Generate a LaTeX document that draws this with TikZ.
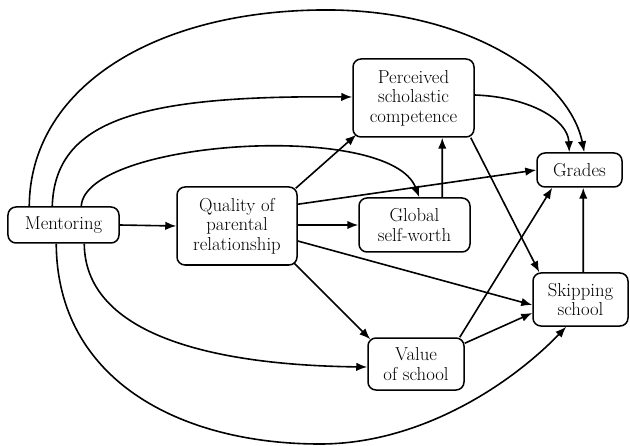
\documentclass[tikz,border=0pt]{standalone}
\usetikzlibrary{arrows.meta,calc}
\begin{document}
\begin{tikzpicture}[x=1bp,y=-1bp,
  box/.style={draw,line width=1.5bp,rounded corners=8bp,align=center,inner sep=0pt,
    font=\fontsize{18.8}{19.5}\selectfont},
  arr/.style={line width=1.6bp,-{Latex[length=11bp,width=8.5bp]}},
  ]
\useasboundingbox (0,0) rectangle (630,446);
\node[box,minimum width=111bp,minimum height=36bp] (ment) at (63.5,225) {Mentoring};
\node[box,minimum width=120bp,minimum height=78bp] (qual) at (237,226) {Quality of\\parental\\relationship};
\node[box,minimum width=121bp,minimum height=78bp] (perc) at (413.5,98) {Perceived\\scholastic\\competence};
\node[box,minimum width=85bp,minimum height=34bp] (grad) at (579.5,170) {Grades};
\node[box,minimum width=111bp,minimum height=54bp] (glob) at (414.5,225) {Global\\self-worth};
\node[box,minimum width=95bp,minimum height=53bp] (skip) at (580.5,299.5) {Skipping\\school};
\node[box,minimum width=96bp,minimum height=52bp] (val) at (416,364) {Value\\of school};

% Mentoring arcs
\draw[arr] ($(ment.north west)+(22,0)$) .. controls (30,90) and (150,12) .. (320,10)
  .. controls (470,8) and (570,80) .. ($(grad.north west)+(48,0)$);
\draw[arr] ($(ment.north west)+(45,0)$) .. controls (55,120) and (140,95) .. ($(perc.west)+(0,-1)$);
\draw[arr] ($(ment.north west)+(74,0)$) .. controls (85,140) and (390,120) .. ($(glob.north west)+(61,0)$);
\draw[arr] ($(ment.south west)+(49,0)$) .. controls (57,380) and (180,444) .. (320,444)
  .. controls (420,444) and (510,385) .. ($(skip.south west)+(34,0)$);
\draw[arr] ($(ment.south west)+(77,0)$) .. controls (85,330) and (200,365) .. ($(val.west)+(0,3)$);
\draw[arr] (ment.east) -- (qual.west);

% Quality
\draw[arr] ($(qual.north east)+(-2,2)$) -- ($(perc.south west)+(4,-3)$);
\draw[arr] ($(qual.north east)+(0,18)$) -- (grad.west);
\draw[arr] ($(qual.east)+(0,-1)$) -- (glob.west);
\draw[arr] ($(qual.east)+(0,15)$) -- ($(skip.west)+(0,5.5)$);
\draw[arr] ($(qual.south east)+(-4,-3)$) -- ($(val.north west)+(3,2)$);

% Others
\draw[arr] ($(glob.north west)+(84,0)$) -- ($(perc.south west)+(90,0)$);
\draw[arr] ($(perc.east)+(0,-3)$) .. controls (530,97) and (568,120) .. ($(grad.north west)+(33,0)$);
\draw[arr] ($(perc.south east)+(-4,0)$) -- ($(skip.north west)+(7,0)$);
\draw[arr] ($(val.north east)+(-5,0)$) -- ($(grad.south west)+(16,0)$);
\draw[arr] ($(val.north east)+(0,6)$) -- ($(skip.west)+(0,13.5)$);
\draw[arr] ($(skip.north west)+(51,0)$) -- ($(grad.south west)+(47,0)$);
\end{tikzpicture}
\end{document}
